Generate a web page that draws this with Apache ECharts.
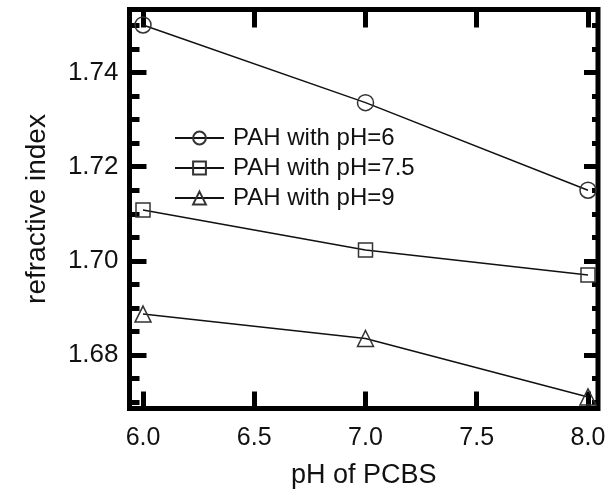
<!DOCTYPE html>
<html>
<head>
<meta charset="utf-8">
<script src="https://cdn.jsdelivr.net/npm/echarts@6/dist/echarts.min.js"></script>
<style>html,body{margin:0;padding:0;background:#fff}#c{width:610px;height:497px}</style>
</head>
<body>
<div id="c"></div>
<script>
const xValues = [6, 7, 8];
const seriesNames = ['PAH with pH=6', 'PAH with pH=7.5', 'PAH with pH=9'];
const ph6 = [1.7501, 1.7336, 1.7150];
const ph75 = [1.7108, 1.7023, 1.6970];
const ph9 = [1.6887, 1.6835, 1.6711];
const xTicks = [6.0, 6.5, 7.0, 7.5, 8.0];
const xTickLabels = ['6.0', '6.5', '7.0', '7.5', '8.0'];
const yTicks = [1.68, 1.70, 1.72, 1.74];
const yTickLabels = ['1.68', '1.70', '1.72', '1.74'];
const yMinorTicks = [1.670, 1.675, 1.685, 1.690, 1.695, 1.705, 1.710, 1.715, 1.725, 1.730, 1.735, 1.745, 1.750];

const X_MIN = 5.9393, X_MAX = 8.045, Y_MIN = 1.66864, Y_MAX = 1.75338;
const FONT = 'Liberation Sans, Arial, sans-serif';
const symbols = ['circle', 'rect', 'triangle'];
const symbolSizes = [16, 14, 16];
const datasets = [ph6, ph75, ph9];

function xAxisDef(pos, withLabels, tickLen) {
  return {
    type: 'value', position: pos, min: X_MIN, max: X_MAX,
    axisLine: { show: false },
    splitLine: { show: false },
    axisTick: { show: true, inside: true, length: tickLen, customValues: xTicks,
      lineStyle: { color: '#000', width: 5 } },
    axisLabel: withLabels ? {
      show: true, customValues: xTicks, margin: 17,
      fontSize: 25, fontFamily: FONT, color: '#111',
      formatter: v => xTickLabels[xTicks.findIndex(t => Math.abs(t - v) < 1e-6)]
    } : { show: false },
    name: withLabels ? 'pH of PCBS' : '',
    nameLocation: 'middle', nameGap: 54,
    nameTextStyle: { fontSize: 27, fontFamily: FONT, color: '#111' }
  };
}
function yAxisDef(pos, withLabels, values, tickLen, name) {
  return {
    type: 'value', position: pos, min: Y_MIN, max: Y_MAX,
    axisLine: { show: false },
    splitLine: { show: false },
    axisTick: { show: true, inside: true, length: tickLen, customValues: values,
      lineStyle: { color: '#000', width: 5 } },
    axisLabel: withLabels ? {
      show: true, customValues: yTicks, margin: 11,
      fontSize: 26, fontFamily: FONT, color: '#111',
      formatter: v => yTickLabels[yTicks.findIndex(t => Math.abs(t - v) < 1e-6)]
    } : { show: false },
    name: name || '',
    nameLocation: 'middle', nameGap: 78,
    nameTextStyle: { fontSize: 28, fontFamily: FONT, color: '#111' }
  };
}

const chart = echarts.init(document.getElementById('c'), null, { renderer: 'canvas' });
chart.setOption({
  animation: false,
  backgroundColor: '#fff',
  grid: { left: 129.5, right: 12, top: 9.5, bottom: 88.5, show: true,
    borderColor: '#000', borderWidth: 5, backgroundColor: 'transparent' },
  xAxis: [xAxisDef('bottom', true, 17), xAxisDef('top', false, 18)],
  yAxis: [
    yAxisDef('left', true, yTicks, 17, 'refractive index'),
    yAxisDef('left', false, yMinorTicks, 10),
    yAxisDef('right', false, yTicks, 14),
    yAxisDef('right', false, yMinorTicks, 6)
  ],
  legend: {
    orient: 'vertical', left: 169, top: 121,
    itemWidth: 49, itemHeight: 16, itemGap: 6,
    textStyle: { fontSize: 24, fontFamily: FONT, color: '#111', padding: [0, 0, 0, 4] },
    data: seriesNames
  },
  series: seriesNames.map((name, i) => ({
    name: name, type: 'line',
    xAxisIndex: 0, yAxisIndex: 0,
    data: xValues.map((x, j) => [x, datasets[i][j]]),
    symbol: symbols[i], symbolSize: symbolSizes[i],
    lineStyle: { color: '#111', width: 1.5 },
    itemStyle: { color: 'rgba(255,255,255,0)', borderColor: '#333', borderWidth: 1.5 },
    emphasis: { disabled: true }
  }))
});
</script>
</body>
</html>
